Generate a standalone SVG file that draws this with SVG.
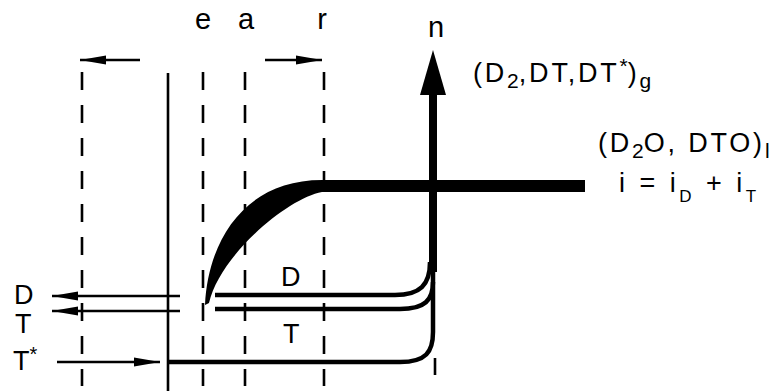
<svg xmlns="http://www.w3.org/2000/svg" width="774" height="391" viewBox="0 0 774 391">
<style>
  text { font-family: "Liberation Sans", Arial, sans-serif; fill: #000; }
  .lbl { font-size: 29px; }
  .f { font-size: 27px; letter-spacing: 2.8px; }
  .sub { font-size: 21px; letter-spacing: 0px; }
  .dash { stroke: #000; stroke-width: 2.6; stroke-dasharray: 18 15; fill: none; }
  .thin { stroke: #000; stroke-width: 2.6; fill: none; }
  .mid { stroke: #000; stroke-width: 4.5; fill: none; }
</style>
<defs>
  <marker id="ah" markerWidth="26" markerHeight="10" refX="26" refY="5" orient="auto" markerUnits="userSpaceOnUse">
    <path d="M0,0.5 L26,5 L0,9.5 Z" fill="#000"/>
  </marker>
</defs>
<rect width="774" height="391" fill="#fff"/>

<g id="connectors">
  <line class="dash" x1="82" y1="72" x2="82" y2="386"/>
  <line class="dash" x1="203" y1="72" x2="203" y2="386"/>
  <line class="dash" x1="245" y1="72" x2="245" y2="386"/>
  <line class="dash" x1="324" y1="72" x2="324" y2="386"/>
  <line class="thin" x1="435" y1="358" x2="435" y2="375"/>
  <line class="thin" x1="168" y1="73" x2="168" y2="391"/>
  <line class="thin" x1="140" y1="60" x2="80" y2="60" marker-end="url(#ah)"/>
  <line class="thin" x1="265" y1="60" x2="322" y2="60" marker-end="url(#ah)"/>
  <line class="thin" x1="180" y1="296" x2="52" y2="296" marker-end="url(#ah)"/>
  <line class="thin" x1="180" y1="311" x2="52" y2="311" marker-end="url(#ah)"/>
  <line class="thin" x1="57" y1="362" x2="160" y2="362" marker-end="url(#ah)"/>
  <path d="M205,305 C208,240 245,180 322,180 L585,180 L585,192 L322,192 C288,198 220,255 209,303 Z" fill="#000"/>
  <path class="mid" d="M215,295 L395,295 C420,295 430,285 430,262"/>
  <path class="mid" d="M215,309 L400,309 C425,309 433,300 433,282"/>
  <path class="mid" d="M168,362 L400,362 C426,362 433,352 433,332 L433,262"/>
  <line x1="433" y1="93" x2="433" y2="272" stroke="#000" stroke-width="8"/>
  <path d="M433,50 L446,95 L420,95 Z" fill="#000"/>
</g>

<g id="labels">
  <text class="lbl" x="203" y="29" text-anchor="middle">e</text>
  <text class="lbl" x="246" y="29" text-anchor="middle">a</text>
  <text class="lbl" x="322" y="29" text-anchor="middle">r</text>
  <text class="lbl" x="436" y="37" text-anchor="middle">n</text>
  <text class="lbl" x="14" y="304" style="font-size:27px">D</text>
  <text class="lbl" x="15" y="333" style="font-size:27px">T</text>
  <text class="lbl" x="13" y="370" style="font-size:27px">T<tspan font-size="20" dy="-9">*</tspan></text>
  <text class="lbl" x="281" y="286" style="font-size:27px">D</text>
  <text class="lbl" x="283" y="343" style="font-size:27px">T</text>
</g>

<g id="node-gas">
  <text class="f" x="473" y="82">(D<tspan class="sub" dy="6">2</tspan><tspan dy="-6">,DT,DT</tspan><tspan class="sub" dy="-9">*</tspan><tspan dy="9">)</tspan><tspan class="sub" dy="6">g</tspan></text>
</g>

<g id="node-liquid">
  <text class="f" x="598" y="152">(D<tspan class="sub" dy="6">2</tspan><tspan dy="-6">O, DTO)</tspan><tspan class="sub" dy="6">l</tspan></text>
</g>

<g id="node-current">
  <text class="f" x="619" y="192" style="font-size:27px;letter-spacing:3.5px">i = i<tspan style="font-size:17px" dy="10">D</tspan><tspan dy="-10"> + i</tspan><tspan style="font-size:17px" dy="10">T</tspan></text>
</g>
</svg>
